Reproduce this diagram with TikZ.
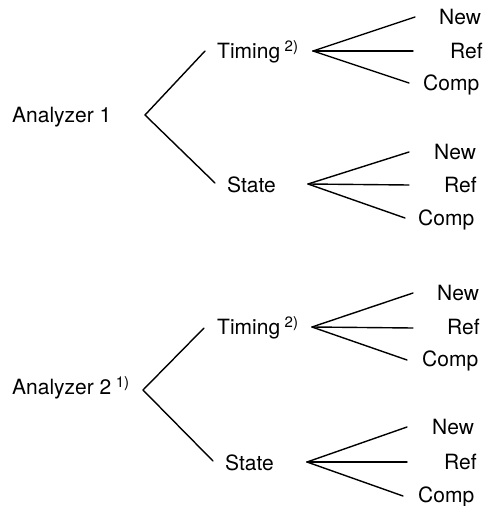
\documentclass[tikz,border=0pt]{standalone}
\usepackage{fontspec}
\setmainfont{TeX Gyre Heros}
\newcommand{\supmark}[1]{\hspace{4.5pt}\raisebox{7pt}{\fontsize{15}{15}\selectfont #1}}
\begin{document}
\begin{tikzpicture}[x=1pt,y=-1pt,
  lbl/.style={inner sep=0pt,anchor=base west,font=\fontsize{21}{25}\selectfont},
  branch/.style={line width=1.4pt,line cap=round}]
\useasboundingbox (0,0) rectangle (485,506);
% ---------- group 1 ----------
\node[lbl] (a1) at (12,122) {Analyzer 1};
\coordinate (a1v) at (145,115);
\node[lbl] (t1) at (217,58) {Timing\supmark{2)}};
\coordinate (t1e) at (205,51);
\coordinate (t1v) at (313,51);
\node[lbl] (s1) at (227,192) {State};
\coordinate (s1e) at (215,183);
\coordinate (s1v) at (308,184);
\node[lbl] (t1n) at (439,24) {New};
\node[lbl] (t1r) at (450,58) {Ref};
\node[lbl] (t1c) at (423,90) {Comp};
\coordinate (t1ne) at (415,17);
\coordinate (t1re) at (413,51);
\coordinate (t1ce) at (409,83);
\node[lbl] (s1n) at (434,159) {New};
\node[lbl] (s1r) at (444,192) {Ref};
\node[lbl] (s1c) at (418,225) {Comp};
\coordinate (s1ne) at (409,152);
\coordinate (s1re) at (409,185);
\coordinate (s1ce) at (405,218);
\draw[branch] (t1e) -- (a1v) -- (s1e);
\draw[branch] (t1v) -- (t1ne);
\draw[branch] (t1v) -- (t1re);
\draw[branch] (t1v) -- (t1ce);
\draw[branch] (s1v) -- (s1ne);
\draw[branch] (s1v) -- (s1re);
\draw[branch] (s1v) -- (s1ce);
% ---------- group 2 ----------
\node[lbl] (a2) at (12,394) {Analyzer 2\supmark{1)}};
\coordinate (a2v) at (143,390);
\node[lbl] (t2) at (217,334) {Timing\supmark{2)}};
\coordinate (t2e) at (204,328);
\coordinate (t2v) at (312,327);
\node[lbl] (s2) at (225,470) {State};
\coordinate (s2e) at (213,461);
\coordinate (s2v) at (307,462);
\node[lbl] (t2n) at (437,300) {New};
\node[lbl] (t2r) at (447,334) {Ref};
\node[lbl] (t2c) at (422,366) {Comp};
\coordinate (t2ne) at (413,293);
\coordinate (t2re) at (413,328);
\coordinate (t2ce) at (407,360);
\node[lbl] (s2n) at (432,434) {New};
\node[lbl] (s2r) at (444,469) {Ref};
\node[lbl] (s2c) at (418,502) {Comp};
\coordinate (s2ne) at (407,427);
\coordinate (s2re) at (407,462);
\coordinate (s2ce) at (403,496);
\draw[branch] (t2e) -- (a2v) -- (s2e);
\draw[branch] (t2v) -- (t2ne);
\draw[branch] (t2v) -- (t2re);
\draw[branch] (t2v) -- (t2ce);
\draw[branch] (s2v) -- (s2ne);
\draw[branch] (s2v) -- (s2re);
\draw[branch] (s2v) -- (s2ce);
\end{tikzpicture}
\end{document}
